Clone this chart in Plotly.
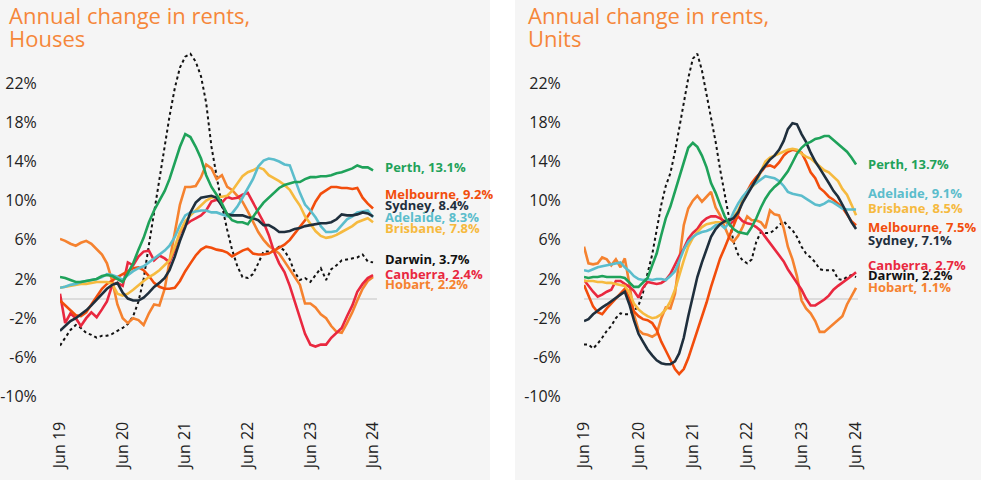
import pandas as pd
import plotly.graph_objects as go

# ---------------- data ----------------
dates = pd.date_range("2019-06-01", periods=61, freq="MS")

cities = ["Perth", "Melbourne", "Sydney", "Adelaide", "Brisbane", "Darwin", "Canberra", "Hobart"]

houses_perth = [2.2,2.1,1.9,1.7,1.7,1.8,1.9,2.0,2.3,2.4, 2.3,2.0,1.7,2.6,3.6,5.0,6.2,7.8,9.0,10.0,
                11.0,12.2,13.8,15.5,16.8,16.5,15.5,14.3,12.6,11.4, 10.6,9.7,8.6,8.0,7.8,7.8,7.6,8.4,9.1,9.8,
                10.3,10.8,11.3,11.6,11.8,11.9,11.9,12.2,12.4,12.4, 12.5,12.5,12.6,12.8,12.9,13.1,13.3,13.6,13.4,13.4,
                13.1]
houses_sydney = [-3.3,-2.8,-2.3,-2.0,-1.6,-1.2,-0.7,-0.1,0.5,1.0, 1.4,1.6,0.6,0.0,-0.2,-0.2,0.1,0.6,1.2,1.6,
                 2.1,2.9,4.3,5.9,7.3,8.8,9.8,10.3,10.4,10.5, 10.3,9.4,8.6,8.5,8.5,8.5,8.3,8.2,8.0,7.5,
                 7.5,7.2,6.8,6.8,6.9,7.1,7.2,7.4,7.5,7.6, 7.7,7.7,7.8,8.1,8.6,8.5,8.5,8.6,8.8,8.7,
                 8.4]
houses_adelaide = [1.1,1.2,1.4,1.5,1.7,1.8,1.9,2.0,2.2,2.5, 2.4,2.2,1.9,2.4,2.8,3.1,3.3,3.7,4.1,4.5,
                   4.9,5.4,6.3,7.5,8.5,8.8,8.9,9.0,9.0,8.8, 8.8,8.6,8.4,8.7,9.4,10.3,11.2,12.2,13.5,14.1,
                   14.3,14.2,14.0,13.7,13.6,12.2,10.8,9.6,9.0,8.3, 7.4,6.8,6.8,6.9,7.5,8.1,8.4,8.8,8.9,9.0,
                   8.3]
houses_brisbane = [1.1,1.2,1.3,1.4,1.5,1.5,1.6,1.7,1.7,1.7, 1.5,0.5,0.3,0.5,0.9,1.4,1.8,2.2,2.5,2.9,
                   3.4,3.9,5.3,6.8,7.9,8.5,9.0,9.5,10.0,10.3, 10.4,10.4,10.5,11.0,11.8,12.5,12.9,13.1,13.4,13.2,
                   12.6,12.3,12.0,11.6,11.1,10.3,9.5,8.4,7.6,6.9, 6.4,6.2,6.3,6.5,6.8,7.1,7.4,7.8,8.0,8.2,
                   7.8]
houses_melbourne = [-0.2,-0.7,-1.2,-1.7,-1.8,-1.4,-0.6,0.2,1.0,1.5, 1.9,2.2,2.5,2.8,3.1,3.2,2.9,2.3,1.6,1.2,
                    1.0,1.0,1.1,1.8,2.8,3.6,4.4,5.0,5.3,5.2, 5.0,4.9,4.7,4.3,4.6,4.9,5.1,4.6,4.5,4.5,
                    4.6,4.9,5.2,5.5,6.0,6.6,7.3,8.0,8.8,9.9, 10.7,11.1,11.4,11.4,11.3,11.3,11.2,11.3,10.3,9.7,
                    9.2]
houses_canberra = [0.5,-2.5,-1.5,-2.0,-2.8,-2.0,-1.4,-1.9,-1.1,-0.3, 1.4,1.6,1.3,3.7,3.4,4.3,4.8,4.9,3.9,4.4,
                   4.1,3.7,5.0,6.7,7.5,7.9,8.2,8.5,9.0,9.9, 10.1,9.8,10.4,10.2,10.3,10.6,10.8,9.8,8.8,7.8,
                   6.5,4.8,3.6,2.7,1.3,-0.2,-2.0,-3.6,-4.7,-4.9, -4.7,-4.7,-4.0,-3.5,-3.0,-1.8,-0.7,0.7,1.5,2.1,
                   2.4]
houses_hobart = [6.1,5.9,5.6,5.4,5.7,5.9,5.6,5.1,4.5,3.6, 1.8,-0.6,-2.0,-2.5,-2.0,-2.2,-2.7,-1.5,-0.6,-0.7,
                 1.0,3.8,6.8,9.6,11.4,11.4,11.5,12.4,13.7,13.3, 12.2,12.6,11.4,11.1,10.5,9.9,8.9,7.8,6.8,6.0,
                 5.4,5.0,4.6,3.8,3.0,2.3,1.4,-0.5,-0.5,-0.9, -1.6,-2.0,-2.8,-3.4,-3.5,-2.5,-1.4,-0.2,1.0,1.8,
                 2.2]
houses_darwin = [-4.8,-4.0,-3.2,-2.7,-3.0,-3.5,-3.7,-4.0,-3.8,-3.8, -3.6,-3.3,-3.0,-2.6,-1.8,-0.3,2.0,5.5,8.8,12.0,
                 15.2,18.6,21.5,23.6,24.7,25.0,24.2,22.7,20.0,15.5, 12.5,9.5,7.0,5.0,3.3,2.2,2.1,2.5,3.6,4.8,
                 4.8,4.9,5.3,4.9,4.0,2.7,1.9,2.1,1.7,2.4, 3.1,1.9,3.0,3.4,3.9,4.0,4.1,4.2,4.5,3.8,
                 3.7]

units_perth = [2.2,2.1,2.2,2.2,2.3,2.2,2.2,2.2,2.2,2.1, 1.6,1.2,1.2,1.6,2.1,3.4,4.6,6.5,8.2,9.4,
               11.0,12.2,14.0,15.4,15.9,15.5,14.6,13.4,11.8,10.8, 9.6,8.4,7.6,7.1,6.8,6.7,6.6,7.3,8.2,9.3,
               10.2,10.9,11.4,11.8,12.4,13.0,13.9,14.8,15.4,15.8, 16.0,16.3,16.4,16.6,16.6,16.2,15.8,15.4,15.0,14.4,
               13.7]
units_sydney = [-2.3,-2.1,-1.6,-1.2,-0.9,-0.6,-0.3,0.0,0.4,0.7, -0.6,-2.2,-3.6,-4.4,-5.2,-5.8,-6.3,-6.6,-6.7,-6.7,
                -6.4,-5.6,-4.0,-1.8,0.4,2.2,3.7,5.0,6.3,7.1, 7.6,7.9,8.0,8.2,8.8,9.8,10.6,11.4,12.2,13.0,
                13.6,14.2,14.6,15.2,16.1,17.3,17.9,17.8,16.8,16.0, 14.9,14.0,13.3,12.6,11.8,11.0,10.4,9.6,8.7,7.8,
                7.1]
units_melbourne = [1.4,0.4,-0.8,-1.4,-1.6,-1.0,-0.5,0.1,0.6,1.0, 0.0,-1.3,-1.8,-2.1,-2.2,-2.5,-3.2,-4.4,-5.3,-6.3,
                   -7.2,-7.7,-7.2,-6.1,-4.7,-3.3,-2.0,-0.4,1.2,2.8, 4.1,5.2,6.4,7.4,8.6,10.1,11.0,11.8,12.4,12.9,
                   13.5,13.6,13.4,13.9,14.6,15.0,15.2,15.1,14.9,14.0, 12.9,12.3,11.3,10.9,10.4,10.1,9.7,9.3,8.6,7.9,
                   7.5]
units_brisbane = [1.8,1.8,1.8,1.7,1.7,1.6,1.6,1.5,1.4,1.3, 0.6,-0.5,-1.1,-1.5,-1.8,-2.0,-1.9,-1.6,-1.1,-0.3,
                  0.9,2.4,3.9,5.3,6.2,6.8,7.3,7.6,7.7,7.8, 7.8,7.8,7.9,8.3,9.0,10.0,10.9,11.4,11.8,13.0,
                  14.0,14.4,14.6,14.8,15.0,15.2,15.3,15.2,14.8,14.5, 14.3,13.9,13.5,13.1,12.9,12.5,12.0,11.2,10.6,9.6,
                  8.5]
units_adelaide = [2.9,2.8,3.0,3.2,3.3,3.4,3.5,3.6,3.7,3.2, 2.8,2.3,2.0,1.9,2.0,1.9,2.0,2.0,1.9,2.3,
                  2.8,3.8,5.0,5.8,6.3,6.6,6.8,6.9,7.1,7.5, 7.6,7.2,7.8,8.8,9.7,10.4,11.0,11.5,11.8,12.2,
                  12.5,12.4,12.3,12.0,11.5,10.9,10.7,10.6,10.5,10.2, 9.9,9.6,9.5,9.7,10.0,9.8,9.5,9.2,9.1,9.1,
                  9.1]
units_canberra = [1.9,1.3,0.7,0.2,0.4,0.7,0.9,1.8,1.8,1.5, 1.2,0.8,0.1,1.1,1.7,1.6,1.5,1.6,1.9,2.5,
                  3.5,4.3,5.1,6.1,6.7,7.1,7.8,8.2,8.4,8.4, 8.2,7.9,7.6,7.9,8.4,7.9,7.7,7.6,7.3,6.9,
                  6.3,5.6,5.0,4.4,3.8,3.0,2.3,1.6,0.9,0.0, -0.7,-0.7,-0.4,-0.1,0.3,0.9,1.3,1.6,1.9,2.3,
                  2.7]
units_hobart = [5.3,3.6,3.5,3.6,4.2,4.0,3.4,4.0,3.2,4.1, 1.5,-1.6,-3.2,-3.6,-3.7,-3.9,-3.6,-2.0,-0.9,-1.0,
                0.5,4.0,7.5,9.2,10.0,10.5,9.9,10.4,10.9,9.3, 8.5,7.3,6.2,5.8,6.4,7.3,8.4,8.0,8.0,7.8,
                7.2,9.0,8.6,8.5,7.2,5.3,4.0,2.3,-0.2,-1.0, -1.5,-2.3,-3.4,-3.4,-3.0,-2.6,-2.1,-1.8,-0.6,0.2,
                1.1]
units_darwin = [-4.7,-4.7,-5.1,-4.6,-4.0,-3.3,-2.8,-2.0,-1.5,-1.6, -1.6,-1.3,-0.7,0.6,2.6,4.5,7.0,9.6,11.5,12.8,
                15.0,17.3,19.8,22.5,24.5,25.0,23.3,20.9,18.7,16.0, 13.2,10.5,8.1,5.8,4.5,3.9,3.6,4.0,5.8,6.8,
                6.7,6.7,7.0,7.5,7.9,7.4,7.0,6.3,5.3,4.6, 4.2,3.7,3.0,2.9,2.9,2.9,2.0,1.9,2.2,2.4,
                2.2]

houses = {"Perth": houses_perth, "Melbourne": houses_melbourne, "Sydney": houses_sydney,
          "Adelaide": houses_adelaide, "Brisbane": houses_brisbane, "Darwin": houses_darwin,
          "Canberra": houses_canberra, "Hobart": houses_hobart}
units = {"Perth": units_perth, "Melbourne": units_melbourne, "Sydney": units_sydney,
         "Adelaide": units_adelaide, "Brisbane": units_brisbane, "Darwin": units_darwin,
         "Canberra": units_canberra, "Hobart": units_hobart}

ytick_vals = [-10, -6, -2, 2, 6, 10, 14, 18, 22]
ytick_text = ["-10%", "-6%", "-2%", "2%", "6%", "10%", "14%", "18%", "22%"]
xtick_vals = pd.to_datetime(["2019-06-01", "2020-06-01", "2021-06-01", "2022-06-01", "2023-06-01", "2024-06-01"])
xtick_text = ["Jun 19", "Jun 20", "Jun 21", "Jun 22", "Jun 23", "Jun 24"]

# ---------------- style ----------------
colors = {"Perth": "#1fa25a", "Melbourne": "#f24d0c", "Sydney": "#1f2f3d", "Adelaide": "#5bbdcc",
          "Brisbane": "#f6ba3f", "Darwin": "#111111", "Canberra": "#e9283f", "Hobart": "#f5822f"}
draw_order = ["Darwin", "Hobart", "Canberra", "Melbourne", "Brisbane", "Adelaide", "Sydney", "Perth"]
# label vertical offsets (px) to avoid overlap
label_shift_h = {"Perth": 3, "Melbourne": 15, "Sydney": 11, "Adelaide": 0, "Brisbane": -6,
                 "Darwin": 3, "Canberra": 1, "Hobart": -7}
label_shift_u = {"Perth": 0, "Melbourne": -2, "Sydney": -11, "Adelaide": 16, "Brisbane": 7,
                 "Darwin": 2, "Canberra": 7, "Hobart": 1}

FONT = "Open Sans"
W, H = 981, 480
fig = go.Figure()

panels = [(houses, "x", "y", label_shift_h), (units, "x2", "y2", label_shift_u)]
for data, xa, ya, shifts in panels:
    for c in draw_order:
        fig.add_trace(go.Scatter(
            x=dates, y=data[c], xaxis=xa, yaxis=ya, mode="lines", name=c, showlegend=False,
            line=dict(color=colors[c], width=2.6 if c != "Darwin" else 2.0,
                      dash="dot" if c == "Darwin" else "solid"),
            hoverinfo="skip"))
    for c in cities:
        last = data[c][-1]
        fig.add_annotation(x=dates[-1], y=last, xref=xa, yref=ya, text=f"<b>{c}, {last:.1f}%</b>",
                           showarrow=False, xanchor="left", yanchor="middle", xshift=10, yshift=shifts[c],
                           font=dict(family=FONT, size=13, color=colors[c]))

yaxis_common = dict(showgrid=False, showline=False, zeroline=True, zerolinecolor="#dcdcdc", zerolinewidth=1.5,
                    range=[-10.5, 26], tickvals=ytick_vals, ticktext=ytick_text, ticks="outside",
                    ticklen=19, tickcolor="rgba(0,0,0,0)", automargin=False,
                    tickfont=dict(family=FONT, size=16, color="#222222"))
xaxis_common = dict(showgrid=False, showline=False, zeroline=False, tickvals=xtick_vals, ticktext=xtick_text,
                    tickangle=-90, ticks="outside", ticklen=13, tickcolor="rgba(0,0,0,0)", automargin=False,
                    tickfont=dict(family=FONT, size=16, color="#222222"))

ydom = [(H - 401.4) / H, (H - 44) / H]
fig.update_layout(
    width=W, height=H, margin=dict(l=0, r=0, t=0, b=0),
    paper_bgcolor="white", plot_bgcolor="rgba(0,0,0,0)",
    xaxis=dict(domain=[60 / W, 377 / W], range=["2019-06-01", "2024-06-24"], anchor="y", **xaxis_common),
    yaxis=dict(domain=ydom, anchor="x", **yaxis_common),
    xaxis2=dict(domain=[584 / W, 858 / W], range=["2019-06-01", "2024-06-14"], anchor="y2", **xaxis_common),
    yaxis2=dict(domain=ydom, anchor="x2", **yaxis_common),
    shapes=[
        dict(type="rect", xref="paper", yref="paper", x0=0, x1=490 / W, y0=0, y1=1,
             fillcolor="#f5f5f5", line=dict(width=0), layer="below"),
        dict(type="rect", xref="paper", yref="paper", x0=515 / W, x1=1, y0=0, y1=1,
             fillcolor="#f5f5f5", line=dict(width=0), layer="below"),
    ],
)

title_color = "#f5873a"
for x0, sub in [(7, "Houses"), (526, "Units")]:
    fig.add_annotation(xref="paper", yref="paper", x=x0 / W, y=1 - 15 / H, xanchor="left", yanchor="middle",
                       text="Annual change in rents,", showarrow=False,
                       font=dict(family=FONT, size=22, color=title_color))
    fig.add_annotation(xref="paper", yref="paper", x=x0 / W, y=1 - 38 / H, xanchor="left", yanchor="middle",
                       text=sub, showarrow=False, font=dict(family=FONT, size=22, color=title_color))

fig.write_html("out.html", config={"displayModeBar": False},
               post_script="document.body.style.margin='0';document.body.style.overflow='hidden';")
